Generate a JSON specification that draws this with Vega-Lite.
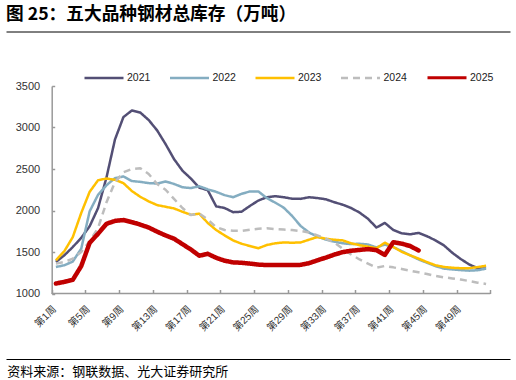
{
  "$schema": "https://vega.github.io/schema/vega-lite/v6.json",
  "width": 504,
  "height": 207.5,
  "autosize": {"type": "none"},
  "padding": {"left": 6, "top": 86, "right": 6, "bottom": 86.5},
  "background": "white",
  "title": {
    "text": "图 25：五大品种钢材总库存（万吨）",
    "anchor": "start",
    "frame": "group",
    "offset": 8,
    "font": "Noto Sans CJK SC",
    "fontSize": 17.7,
    "fontWeight": "bold",
    "color": "#000000"
  },
  "datasets": {
    "inv": [
      {"wk":1,"yr":"2021","v":1380},{"wk":2,"yr":"2021","v":1460},{"wk":3,"yr":"2021","v":1560},{"wk":4,"yr":"2021","v":1670},{"wk":5,"yr":"2021","v":1810},{"wk":6,"yr":"2021","v":2030},{"wk":7,"yr":"2021","v":2400},{"wk":8,"yr":"2021","v":2855},{"wk":9,"yr":"2021","v":3125},{"wk":10,"yr":"2021","v":3205},{"wk":11,"yr":"2021","v":3180},{"wk":12,"yr":"2021","v":3090},{"wk":13,"yr":"2021","v":2965},{"wk":14,"yr":"2021","v":2800},{"wk":15,"yr":"2021","v":2620},{"wk":16,"yr":"2021","v":2480},{"wk":17,"yr":"2021","v":2385},{"wk":18,"yr":"2021","v":2275},{"wk":19,"yr":"2021","v":2245},{"wk":20,"yr":"2021","v":2050},{"wk":21,"yr":"2021","v":2030},{"wk":22,"yr":"2021","v":1980},{"wk":23,"yr":"2021","v":1985},{"wk":24,"yr":"2021","v":2055},{"wk":25,"yr":"2021","v":2120},{"wk":26,"yr":"2021","v":2160},{"wk":27,"yr":"2021","v":2172},{"wk":28,"yr":"2021","v":2160},{"wk":29,"yr":"2021","v":2142},{"wk":30,"yr":"2021","v":2140},{"wk":31,"yr":"2021","v":2160},{"wk":32,"yr":"2021","v":2150},{"wk":33,"yr":"2021","v":2135},{"wk":34,"yr":"2021","v":2100},{"wk":35,"yr":"2021","v":2070},{"wk":36,"yr":"2021","v":2030},{"wk":37,"yr":"2021","v":1975},{"wk":38,"yr":"2021","v":1900},{"wk":39,"yr":"2021","v":1795},{"wk":40,"yr":"2021","v":1850},{"wk":41,"yr":"2021","v":1765},{"wk":42,"yr":"2021","v":1725},{"wk":43,"yr":"2021","v":1713},{"wk":44,"yr":"2021","v":1730},{"wk":45,"yr":"2021","v":1690},{"wk":46,"yr":"2021","v":1640},{"wk":47,"yr":"2021","v":1580},{"wk":48,"yr":"2021","v":1490},{"wk":49,"yr":"2021","v":1415},{"wk":50,"yr":"2021","v":1350},{"wk":51,"yr":"2021","v":1305},{"wk":52,"yr":"2021","v":1300},
      {"wk":1,"yr":"2022","v":1320},{"wk":2,"yr":"2022","v":1340},{"wk":3,"yr":"2022","v":1385},{"wk":4,"yr":"2022","v":1540},{"wk":5,"yr":"2022","v":1990},{"wk":6,"yr":"2022","v":2190},{"wk":7,"yr":"2022","v":2305},{"wk":8,"yr":"2022","v":2390},{"wk":9,"yr":"2022","v":2410},{"wk":10,"yr":"2022","v":2355},{"wk":11,"yr":"2022","v":2345},{"wk":12,"yr":"2022","v":2330},{"wk":13,"yr":"2022","v":2325},{"wk":14,"yr":"2022","v":2350},{"wk":15,"yr":"2022","v":2320},{"wk":16,"yr":"2022","v":2280},{"wk":17,"yr":"2022","v":2270},{"wk":18,"yr":"2022","v":2292},{"wk":19,"yr":"2022","v":2255},{"wk":20,"yr":"2022","v":2225},{"wk":21,"yr":"2022","v":2185},{"wk":22,"yr":"2022","v":2160},{"wk":23,"yr":"2022","v":2200},{"wk":24,"yr":"2022","v":2230},{"wk":25,"yr":"2022","v":2230},{"wk":26,"yr":"2022","v":2150},{"wk":27,"yr":"2022","v":2095},{"wk":28,"yr":"2022","v":2035},{"wk":29,"yr":"2022","v":1935},{"wk":30,"yr":"2022","v":1815},{"wk":31,"yr":"2022","v":1735},{"wk":32,"yr":"2022","v":1685},{"wk":33,"yr":"2022","v":1650},{"wk":34,"yr":"2022","v":1625},{"wk":35,"yr":"2022","v":1605},{"wk":36,"yr":"2022","v":1595},{"wk":37,"yr":"2022","v":1600},{"wk":38,"yr":"2022","v":1590},{"wk":39,"yr":"2022","v":1555},{"wk":40,"yr":"2022","v":1590},{"wk":41,"yr":"2022","v":1560},{"wk":42,"yr":"2022","v":1510},{"wk":43,"yr":"2022","v":1460},{"wk":44,"yr":"2022","v":1410},{"wk":45,"yr":"2022","v":1370},{"wk":46,"yr":"2022","v":1330},{"wk":47,"yr":"2022","v":1300},{"wk":48,"yr":"2022","v":1290},{"wk":49,"yr":"2022","v":1282},{"wk":50,"yr":"2022","v":1275},{"wk":51,"yr":"2022","v":1280},{"wk":52,"yr":"2022","v":1300},
      {"wk":1,"yr":"2023","v":1400},{"wk":2,"yr":"2023","v":1510},{"wk":3,"yr":"2023","v":1680},{"wk":4,"yr":"2023","v":1970},{"wk":5,"yr":"2023","v":2225},{"wk":6,"yr":"2023","v":2365},{"wk":7,"yr":"2023","v":2385},{"wk":8,"yr":"2023","v":2370},{"wk":9,"yr":"2023","v":2330},{"wk":10,"yr":"2023","v":2235},{"wk":11,"yr":"2023","v":2165},{"wk":12,"yr":"2023","v":2110},{"wk":13,"yr":"2023","v":2065},{"wk":14,"yr":"2023","v":2045},{"wk":15,"yr":"2023","v":2025},{"wk":16,"yr":"2023","v":1985},{"wk":17,"yr":"2023","v":1948},{"wk":18,"yr":"2023","v":1962},{"wk":19,"yr":"2023","v":1850},{"wk":20,"yr":"2023","v":1765},{"wk":21,"yr":"2023","v":1700},{"wk":22,"yr":"2023","v":1640},{"wk":23,"yr":"2023","v":1600},{"wk":24,"yr":"2023","v":1572},{"wk":25,"yr":"2023","v":1545},{"wk":26,"yr":"2023","v":1584},{"wk":27,"yr":"2023","v":1605},{"wk":28,"yr":"2023","v":1615},{"wk":29,"yr":"2023","v":1612},{"wk":30,"yr":"2023","v":1615},{"wk":31,"yr":"2023","v":1648},{"wk":32,"yr":"2023","v":1680},{"wk":33,"yr":"2023","v":1660},{"wk":34,"yr":"2023","v":1648},{"wk":35,"yr":"2023","v":1640},{"wk":36,"yr":"2023","v":1605},{"wk":37,"yr":"2023","v":1582},{"wk":38,"yr":"2023","v":1565},{"wk":39,"yr":"2023","v":1545},{"wk":40,"yr":"2023","v":1612},{"wk":41,"yr":"2023","v":1560},{"wk":42,"yr":"2023","v":1502},{"wk":43,"yr":"2023","v":1460},{"wk":44,"yr":"2023","v":1420},{"wk":45,"yr":"2023","v":1378},{"wk":46,"yr":"2023","v":1340},{"wk":47,"yr":"2023","v":1320},{"wk":48,"yr":"2023","v":1310},{"wk":49,"yr":"2023","v":1305},{"wk":50,"yr":"2023","v":1305},{"wk":51,"yr":"2023","v":1318},{"wk":52,"yr":"2023","v":1335},
      {"wk":1,"yr":"2024","v":1360},{"wk":2,"yr":"2024","v":1380},{"wk":3,"yr":"2024","v":1420},{"wk":4,"yr":"2024","v":1500},{"wk":5,"yr":"2024","v":1630},{"wk":6,"yr":"2024","v":1790},{"wk":7,"yr":"2024","v":2100},{"wk":8,"yr":"2024","v":2340},{"wk":9,"yr":"2024","v":2460},{"wk":10,"yr":"2024","v":2500},{"wk":11,"yr":"2024","v":2510},{"wk":12,"yr":"2024","v":2440},{"wk":13,"yr":"2024","v":2320},{"wk":14,"yr":"2024","v":2250},{"wk":15,"yr":"2024","v":2140},{"wk":16,"yr":"2024","v":2030},{"wk":17,"yr":"2024","v":1945},{"wk":18,"yr":"2024","v":1965},{"wk":19,"yr":"2024","v":1890},{"wk":20,"yr":"2024","v":1800},{"wk":21,"yr":"2024","v":1765},{"wk":22,"yr":"2024","v":1755},{"wk":23,"yr":"2024","v":1755},{"wk":24,"yr":"2024","v":1768},{"wk":25,"yr":"2024","v":1780},{"wk":26,"yr":"2024","v":1786},{"wk":27,"yr":"2024","v":1776},{"wk":28,"yr":"2024","v":1770},{"wk":29,"yr":"2024","v":1765},{"wk":30,"yr":"2024","v":1753},{"wk":31,"yr":"2024","v":1735},{"wk":32,"yr":"2024","v":1700},{"wk":33,"yr":"2024","v":1660},{"wk":34,"yr":"2024","v":1615},{"wk":35,"yr":"2024","v":1540},{"wk":36,"yr":"2024","v":1470},{"wk":37,"yr":"2024","v":1410},{"wk":38,"yr":"2024","v":1360},{"wk":39,"yr":"2024","v":1310},{"wk":40,"yr":"2024","v":1332},{"wk":41,"yr":"2024","v":1315},{"wk":42,"yr":"2024","v":1295},{"wk":43,"yr":"2024","v":1275},{"wk":44,"yr":"2024","v":1255},{"wk":45,"yr":"2024","v":1235},{"wk":46,"yr":"2024","v":1212},{"wk":47,"yr":"2024","v":1195},{"wk":48,"yr":"2024","v":1182},{"wk":49,"yr":"2024","v":1168},{"wk":50,"yr":"2024","v":1150},{"wk":51,"yr":"2024","v":1130},{"wk":52,"yr":"2024","v":1115},
      {"wk":1,"yr":"2025","v":1120},{"wk":2,"yr":"2025","v":1140},{"wk":3,"yr":"2025","v":1165},{"wk":4,"yr":"2025","v":1330},{"wk":5,"yr":"2025","v":1610},{"wk":6,"yr":"2025","v":1720},{"wk":7,"yr":"2025","v":1840},{"wk":8,"yr":"2025","v":1875},{"wk":9,"yr":"2025","v":1885},{"wk":10,"yr":"2025","v":1860},{"wk":11,"yr":"2025","v":1830},{"wk":12,"yr":"2025","v":1795},{"wk":13,"yr":"2025","v":1745},{"wk":14,"yr":"2025","v":1700},{"wk":15,"yr":"2025","v":1660},{"wk":16,"yr":"2025","v":1595},{"wk":17,"yr":"2025","v":1530},{"wk":18,"yr":"2025","v":1455},{"wk":19,"yr":"2025","v":1478},{"wk":20,"yr":"2025","v":1430},{"wk":21,"yr":"2025","v":1395},{"wk":22,"yr":"2025","v":1375},{"wk":23,"yr":"2025","v":1370},{"wk":24,"yr":"2025","v":1360},{"wk":25,"yr":"2025","v":1348},{"wk":26,"yr":"2025","v":1343},{"wk":27,"yr":"2025","v":1343},{"wk":28,"yr":"2025","v":1343},{"wk":29,"yr":"2025","v":1343},{"wk":30,"yr":"2025","v":1345},{"wk":31,"yr":"2025","v":1365},{"wk":32,"yr":"2025","v":1400},{"wk":33,"yr":"2025","v":1432},{"wk":34,"yr":"2025","v":1468},{"wk":35,"yr":"2025","v":1498},{"wk":36,"yr":"2025","v":1515},{"wk":37,"yr":"2025","v":1525},{"wk":38,"yr":"2025","v":1535},{"wk":39,"yr":"2025","v":1522},{"wk":40,"yr":"2025","v":1465},{"wk":41,"yr":"2025","v":1618},{"wk":42,"yr":"2025","v":1600},{"wk":43,"yr":"2025","v":1572},{"wk":44,"yr":"2025","v":1518}
    ]
  },
  "data": {"name": "inv"},
  "layer": [
    {
      "transform": [{"filter": "datum.wk == 1 && datum.yr == '2021'"}],
      "mark": {"type": "rule", "color": "#999999", "strokeWidth": 1.5},
      "encoding": {
        "x": {
          "datum": 0.5, "type": "quantitative",
          "scale": {"domain": [-4.918, 54.836], "nice": false, "zero": false},
          "axis": {"orient": "top", "offset": 54.5, "domain": true, "domainColor": "#000000", "domainWidth": 1, "ticks": false, "labels": false, "grid": false, "title": null}
        },
        "x2": {"datum": 52.5},
        "y": {
          "datum": 1000, "type": "quantitative",
          "scale": {"domain": [1000, 3500], "nice": false, "zero": false},
          "axis": {"orient": "left", "offset": -45.7, "values": [1000, 1500, 2000, 2500, 3000, 3500], "format": "d", "grid": false, "title": null, "domainColor": "#999999", "domainWidth": 1.5, "tickColor": "#999999", "tickWidth": 1.5, "tickSize": -3, "labelPadding": 15, "labelFont": "Liberation Sans", "labelFontSize": 11, "labelColor": "#333333"}
        }
      }
    },
    {
      "transform": [{"filter": "datum.yr != '2025'"}],
      "mark": {"type": "line", "strokeWidth": 2.5, "strokeCap": "butt", "strokeJoin": "round"},
      "encoding": {
        "x": {
          "field": "wk", "type": "quantitative",
          "scale": {"domain": [-4.918, 54.836], "nice": false, "zero": false},
          "axis": {"orient": "bottom", "domain": false, "grid": false, "title": null,
            "values": [0.5, 4.5, 8.5, 12.5, 16.5, 20.5, 24.5, 28.5, 32.5, 36.5, 40.5, 44.5, 48.5, 52.5],
            "labelExpr": "datum.value < 52 ? '第' + (datum.value + 0.5) + '周' : ''",
            "tickColor": "#999999", "tickWidth": 1.5, "tickSize": -4,
            "labelAngle": -45, "labelAlign": "right", "labelBaseline": "middle", "labelPadding": 17.5, "labelOffset": 2.5,
            "labelOverlap": false, "labelFlush": false, "labelBound": false,
            "labelFont": "Liberation Sans, Noto Sans CJK SC", "labelFontSize": 10, "labelColor": "#333333"}
        },
        "y": {
          "field": "v", "type": "quantitative",
          "scale": {"domain": [1000, 3500], "nice": false, "zero": false},
          "axis": {"orient": "left", "offset": -45.7, "values": [1000, 1500, 2000, 2500, 3000, 3500], "format": "d", "grid": false, "title": null, "domainColor": "#999999", "domainWidth": 1.5, "tickColor": "#999999", "tickWidth": 1.5, "tickSize": -3, "labelPadding": 15, "labelFont": "Liberation Sans", "labelFontSize": 11, "labelColor": "#333333"}
        },
        "color": {
          "field": "yr", "type": "nominal",
          "scale": {"domain": ["2021", "2022", "2023", "2024", "2025"], "range": ["#534F75", "#84ADC1", "#FFC000", "#BDBDBD", "#C00000"]},
          "legend": {"orient": "none", "legendX": 77, "legendY": -29.2, "direction": "horizontal", "title": null, "padding": 0,
            "symbolType": "stroke", "symbolSize": 1521, "symbolStrokeWidth": 2.5, "labelOffset": 2, "columnPadding": 13.5,
            "labelFont": "Liberation Sans", "labelFontSize": 10.5, "labelColor": "#222222",
            "encode": {"symbols": {"update": {"strokeDash": {"signal": "(datum.value === '2024' ? [7, 5] : [1, 0])"}, "strokeWidth": {"signal": "(datum.value === '2025' ? 3 : 2.5)"}}}}}
        },
        "strokeDash": {
          "field": "yr", "type": "nominal",
          "scale": {"domain": ["2021", "2022", "2023", "2024", "2025"], "range": [[1, 0], [1, 0], [1, 0], [7, 5], [1, 0]]},
          "legend": null
        }
      }
    },
    {
      "transform": [{"filter": "datum.yr == '2025'"}],
      "mark": {"type": "line", "strokeWidth": 4.5, "strokeCap": "round", "strokeJoin": "round"},
      "encoding": {
        "x": {
          "field": "wk", "type": "quantitative",
          "scale": {"domain": [-4.918, 54.836], "nice": false, "zero": false},
          "axis": {"orient": "bottom", "offset": 65.5, "domain": true, "domainColor": "#000000", "domainWidth": 1, "ticks": false, "labels": false, "grid": false,
            "title": "资料来源：钢联数据、光大证券研究所", "titleFont": "Noto Sans CJK SC", "titleFontSize": 13, "titleFontWeight": "normal", "titleColor": "#000000",
            "titleAnchor": "start", "titleAlign": "left", "titleBaseline": "middle", "titleX": 0.7, "titleY": 12}
        },
        "y": {
          "field": "v", "type": "quantitative",
          "scale": {"domain": [1000, 3500], "nice": false, "zero": false},
          "axis": {"orient": "left", "offset": -45.7, "values": [1000, 1500, 2000, 2500, 3000, 3500], "format": "d", "grid": false, "title": null, "domainColor": "#999999", "domainWidth": 1.5, "tickColor": "#999999", "tickWidth": 1.5, "tickSize": -3, "labelPadding": 15, "labelFont": "Liberation Sans", "labelFontSize": 11, "labelColor": "#333333"}
        },
        "color": {
          "field": "yr", "type": "nominal",
          "scale": {"domain": ["2021", "2022", "2023", "2024", "2025"], "range": ["#534F75", "#84ADC1", "#FFC000", "#BDBDBD", "#C00000"]},
          "legend": {"orient": "none", "legendX": 77, "legendY": -29.2, "direction": "horizontal", "title": null, "padding": 0,
            "symbolType": "stroke", "symbolSize": 1521, "symbolStrokeWidth": 2.5, "labelOffset": 2, "columnPadding": 13.5,
            "labelFont": "Liberation Sans", "labelFontSize": 10.5, "labelColor": "#222222",
            "encode": {"symbols": {"update": {"strokeDash": {"signal": "(datum.value === '2024' ? [7, 5] : [1, 0])"}, "strokeWidth": {"signal": "(datum.value === '2025' ? 3 : 2.5)"}}}}}
        },
        "strokeDash": {
          "field": "yr", "type": "nominal",
          "scale": {"domain": ["2021", "2022", "2023", "2024", "2025"], "range": [[1, 0], [1, 0], [1, 0], [7, 5], [1, 0]]},
          "legend": null
        }
      }
    }
  ],
  "resolve": {"axis": {"x": "independent"}},
  "config": {"view": {"stroke": null}}
}
